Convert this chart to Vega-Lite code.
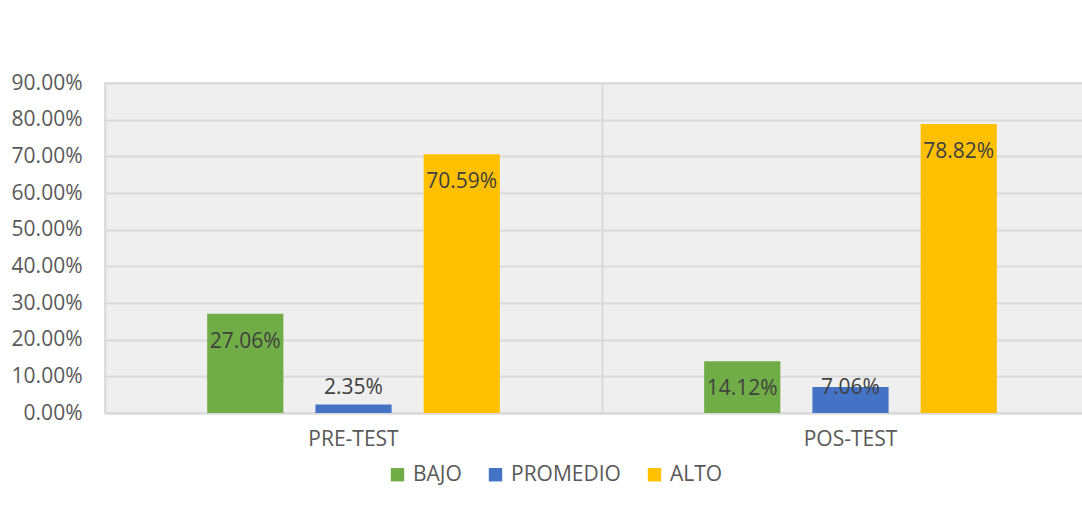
{
  "$schema": "https://vega.github.io/schema/vega-lite/v6.json",
  "width": 994,
  "height": 330,
  "autosize": {"type": "none"},
  "padding": {"left": 105, "top": 83, "right": 0, "bottom": 95},
  "background": "white",
  "config": {
    "view": {"fill": "#efefef", "stroke": "#d9d9d9", "strokeWidth": 1.5},
    "font": "Open Sans"
  },
  "data": {
    "values": [
      {"test": "PRE-TEST", "nivel": "BAJO", "value": 0.2706},
      {"test": "PRE-TEST", "nivel": "PROMEDIO", "value": 0.0235},
      {"test": "PRE-TEST", "nivel": "ALTO", "value": 0.7059},
      {"test": "POS-TEST", "nivel": "BAJO", "value": 0.1412},
      {"test": "POS-TEST", "nivel": "PROMEDIO", "value": 0.0706},
      {"test": "POS-TEST", "nivel": "ALTO", "value": 0.7882}
    ]
  },
  "encoding": {
    "x": {
      "field": "test", "type": "nominal", "sort": ["PRE-TEST", "POS-TEST"],
      "scale": {"paddingInner": 0, "paddingOuter": 0},
      "axis": {
        "title": null, "labelAngle": 0, "labelFontSize": 21, "labelColor": "#595959",
        "labelPadding": 15, "ticks": false, "domainColor": "#d9d9d9", "domainWidth": 2,
        "grid": true, "bandPosition": 0, "gridColor": "#d9d9d9", "gridWidth": 2
      }
    },
    "xOffset": {
      "field": "nivel", "type": "nominal", "sort": ["BAJO", "PROMEDIO", "ALTO"],
      "scale": {"paddingInner": 0.296, "paddingOuter": 0.944}
    },
    "y": {
      "field": "value", "type": "quantitative",
      "scale": {"domain": [0, 0.9], "nice": false},
      "axis": {
        "title": null, "values": [0, 0.1, 0.2, 0.3, 0.4, 0.5, 0.6, 0.7, 0.8, 0.9],
        "tickCount": 20,
        "format": ".2%", "labelFontSize": 21, "labelColor": "#595959",
        "labelPadding": 23, "ticks": false, "domain": false, "labelOverlap": false,
        "gridColor": "#d9d9d9", "gridWidth": 2
      }
    }
  },
  "layer": [
    {
      "mark": {"type": "bar"},
      "encoding": {
        "color": {
          "field": "nivel", "type": "nominal",
          "scale": {"domain": ["BAJO", "PROMEDIO", "ALTO"], "range": ["#70AD47", "#4472C4", "#FFC000"]},
          "legend": {
            "title": null, "orient": "none", "legendX": 282, "legendY": 381,
            "direction": "horizontal", "symbolType": "square", "symbolSize": 180,
            "symbolStrokeWidth": 0, "labelFontSize": 21, "labelColor": "#595959",
            "columnPadding": 23, "labelOffset": 5
          }
        }
      }
    },
    {
      "transform": [{"filter": "datum.value >= 0.1"}],
      "mark": {"type": "text", "fontSize": 21, "color": "#404040", "baseline": "middle", "dy": 28},
      "encoding": {
        "text": {"field": "value", "type": "quantitative", "format": ".2%"}
      }
    },
    {
      "transform": [{"filter": "datum.value < 0.1"}],
      "mark": {"type": "text", "fontSize": 21, "color": "#404040", "baseline": "middle", "dy": -25},
      "encoding": {
        "y": {"datum": 0, "type": "quantitative"},
        "text": {"field": "value", "type": "quantitative", "format": ".2%"}
      }
    }
  ]
}
